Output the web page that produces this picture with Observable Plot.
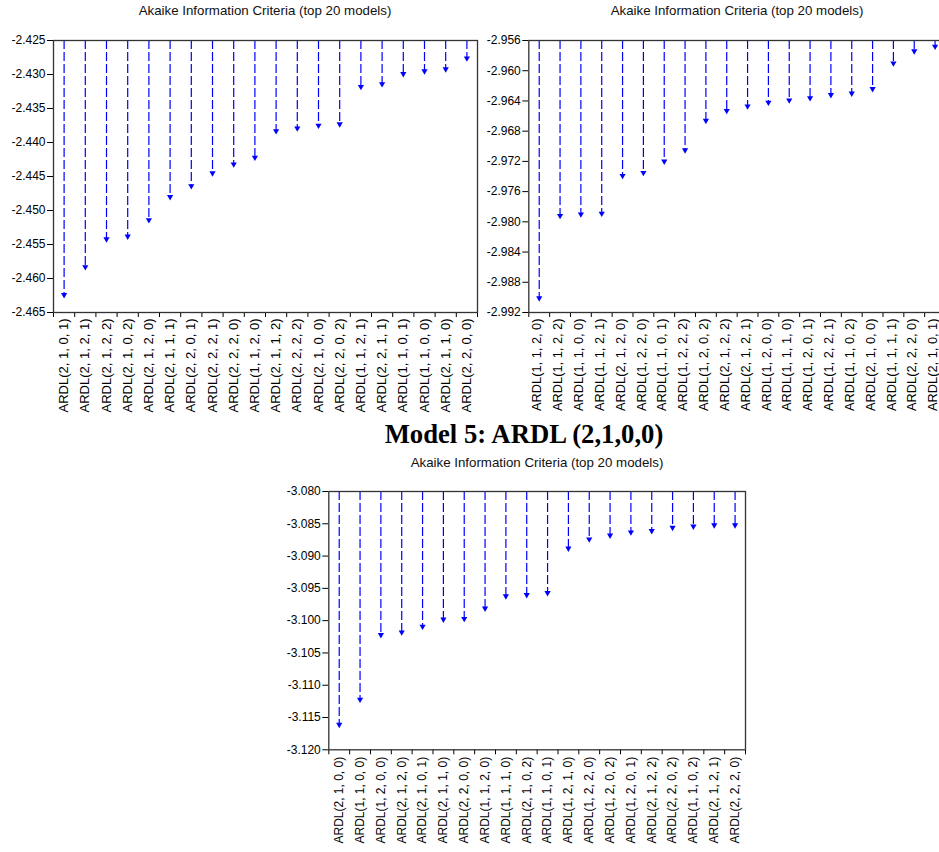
<!DOCTYPE html>
<html>
<head>
<meta charset="utf-8">
<script src="https://cdn.jsdelivr.net/npm/d3@7"></script>
<script src="https://cdn.jsdelivr.net/npm/@observablehq/plot@0.6"></script>
<style>
  html, body { margin: 0; padding: 0; background: #fff; }
  body { width: 939px; height: 852px; position: relative; overflow: hidden; font-family: Arial, "Liberation Sans", sans-serif; }
  .sub { position: absolute; width: 400px; text-align: center; font-size: 13.3px; line-height: 16px; color: #111; white-space: nowrap; }
  .main { position: absolute; width: 500px; text-align: center; font-family: "Times New Roman", "Liberation Serif", serif; font-weight: bold; font-size: 26.7px; line-height: 30px; color: #000; white-space: nowrap; }
</style>
</head>
<body>
<script>
// ---- Data ----
const subtitle = "Akaike Information Criteria (top 20 models)";
const mainTitle = "Model 5: ARDL (2,1,0,0)";

const labelsA = ["ARDL(2, 1, 0, 1)","ARDL(2, 1, 2, 1)","ARDL(2, 1, 2, 2)","ARDL(2, 1, 0, 2)","ARDL(2, 1, 2, 0)",
  "ARDL(2, 1, 1, 1)","ARDL(2, 2, 0, 1)","ARDL(2, 2, 2, 1)","ARDL(2, 2, 2, 0)","ARDL(1, 1, 2, 0)",
  "ARDL(2, 1, 1, 2)","ARDL(2, 2, 2, 2)","ARDL(2, 1, 0, 0)","ARDL(2, 2, 0, 2)","ARDL(1, 1, 2, 1)",
  "ARDL(2, 2, 1, 1)","ARDL(1, 1, 0, 1)","ARDL(1, 1, 0, 0)","ARDL(2, 1, 1, 0)","ARDL(2, 2, 0, 0)"];
const valuesA = [-2.4624,-2.4583,-2.4542,-2.4538,-2.4514,-2.4480,-2.4464,-2.4445,-2.4432,-2.4422,
  -2.4383,-2.4379,-2.4375,-2.4373,-2.4318,-2.4314,-2.4299,-2.4295,-2.4292,-2.4276];
const yTicksA = [-2.465,-2.460,-2.455,-2.450,-2.445,-2.440,-2.435,-2.430,-2.425];

const labelsB = ["ARDL(1, 1, 2, 0)","ARDL(1, 1, 2, 2)","ARDL(1, 1, 0, 0)","ARDL(1, 1, 2, 1)","ARDL(2, 1, 2, 0)",
  "ARDL(1, 2, 2, 0)","ARDL(1, 1, 0, 1)","ARDL(1, 2, 2, 2)","ARDL(1, 2, 0, 2)","ARDL(2, 1, 2, 2)",
  "ARDL(2, 1, 2, 1)","ARDL(1, 2, 0, 0)","ARDL(1, 1, 1, 0)","ARDL(1, 2, 0, 1)","ARDL(1, 2, 2, 1)",
  "ARDL(1, 1, 0, 2)","ARDL(2, 1, 0, 0)","ARDL(1, 1, 1, 1)","ARDL(2, 2, 2, 0)","ARDL(2, 1, 0, 1)"];
const valuesB = [-2.9901,-2.9792,-2.9790,-2.9789,-2.9739,-2.9735,-2.9720,-2.9705,-2.9666,-2.9653,
  -2.9647,-2.9642,-2.9639,-2.9636,-2.9632,-2.9630,-2.9624,-2.9590,-2.9574,-2.9568];
const yTicksB = [-2.992,-2.988,-2.984,-2.980,-2.976,-2.972,-2.968,-2.964,-2.960,-2.956];

const labelsC = ["ARDL(2, 1, 0, 0)","ARDL(1, 1, 0, 0)","ARDL(1, 2, 0, 0)","ARDL(2, 1, 2, 0)","ARDL(2, 1, 0, 1)",
  "ARDL(2, 1, 1, 0)","ARDL(2, 2, 0, 0)","ARDL(1, 1, 2, 0)","ARDL(1, 1, 1, 0)","ARDL(2, 1, 0, 2)",
  "ARDL(1, 1, 0, 1)","ARDL(1, 2, 1, 0)","ARDL(1, 2, 2, 0)","ARDL(1, 2, 0, 2)","ARDL(1, 2, 0, 1)",
  "ARDL(2, 1, 2, 2)","ARDL(2, 2, 0, 2)","ARDL(1, 1, 0, 2)","ARDL(2, 1, 2, 1)","ARDL(2, 2, 2, 0)"];
const valuesC = [-3.1161,-3.1122,-3.1022,-3.1018,-3.1009,-3.0998,-3.0997,-3.0981,-3.0962,-3.0960,
  -3.0957,-3.0888,-3.0874,-3.0868,-3.0863,-3.0861,-3.0856,-3.0854,-3.0852,-3.0852];
const yTicksC = [-3.120,-3.115,-3.110,-3.105,-3.100,-3.095,-3.090,-3.085,-3.080];

// ---- Drawing ----
const BLUE = "#0000ff";

function chart(labels, values, yTicks, opts) {
  const data = values.map((v, i) => ({i, v, label: labels[i]}));
  const yMin = d3.min(yTicks), yMax = d3.max(yTicks);
  const svg = Plot.plot({
    width: opts.width, height: opts.height,
    marginLeft: opts.mL, marginRight: opts.mR, marginTop: opts.mT, marginBottom: opts.mB,
    style: {fontFamily: "Arial, 'Liberation Sans', sans-serif", fontSize: "12px", color: "#000", background: "transparent", overflow: "visible"},
    x: {domain: [0, labels.length]},
    y: {domain: [yMin, yMax]},
    marks: [
      Plot.ruleX(data, {x: d => d.i + 0.5, y1: yMax, y2: "v", stroke: BLUE, strokeWidth: 1.2, strokeDasharray: "9,3"}),
      Plot.dot(data, {x: d => d.i + 0.5, y: "v", symbol: "triangle", rotate: 180, r: 2.3, fill: BLUE, stroke: "none"}),
      Plot.axisY({ticks: yTicks, tickFormat: d => d.toFixed(3), tickSize: 6, tickPadding: 2, label: null}),
      Plot.axisX({ticks: d3.range(labels.length + 1), tickFormat: () => "", tickSize: 5, label: null}),
      Plot.axisX({ticks: d3.range(labels.length).map(i => i + 0.5), tickFormat: d => labels[Math.floor(d)],
        tickSize: 0, tickPadding: opts.xPad, tickRotate: -90, label: null, fontSize: opts.xFont, dx: opts.xdx || 0}),
      Plot.frame({stroke: "#333", strokeWidth: 1.3})
    ]
  });
  svg.style.position = "absolute";
  svg.style.left = opts.left + "px";
  svg.style.top = opts.top + "px";
  svg.style.maxWidth = "none";
  document.body.appendChild(svg);
}

function text(cls, str, cx, top) {
  const d = document.createElement("div");
  d.className = cls;
  d.textContent = str;
  const w = cls === "main" ? 500 : 400;
  d.style.left = (cx - w / 2) + "px";
  d.style.top = top + "px";
  document.body.appendChild(d);
}

chart(labelsA, valuesA, yTicksA, {left: 0, top: 0, width: 480, height: 420, mL: 53, mR: 3, mT: 40, mB: 108, xFont: 13, xPad: 6});
chart(labelsB, valuesB, yTicksB, {left: 470, top: 0, width: 480, height: 420, mL: 58.3, mR: 5, mT: 40, mB: 108, xFont: 12.8, xPad: 6, xdx: -2});
chart(labelsC, valuesC, yTicksC, {left: 270, top: 451, width: 480, height: 401, mL: 58.3, mR: 5, mT: 40, mB: 102.7, xFont: 12, xPad: 7});

text("sub", subtitle, 265, 2.6);
text("sub", subtitle, 737, 2.6);
text("main", mainTitle, 524, 419);
text("sub", subtitle, 537, 454.6);
</script>
</body>
</html>
